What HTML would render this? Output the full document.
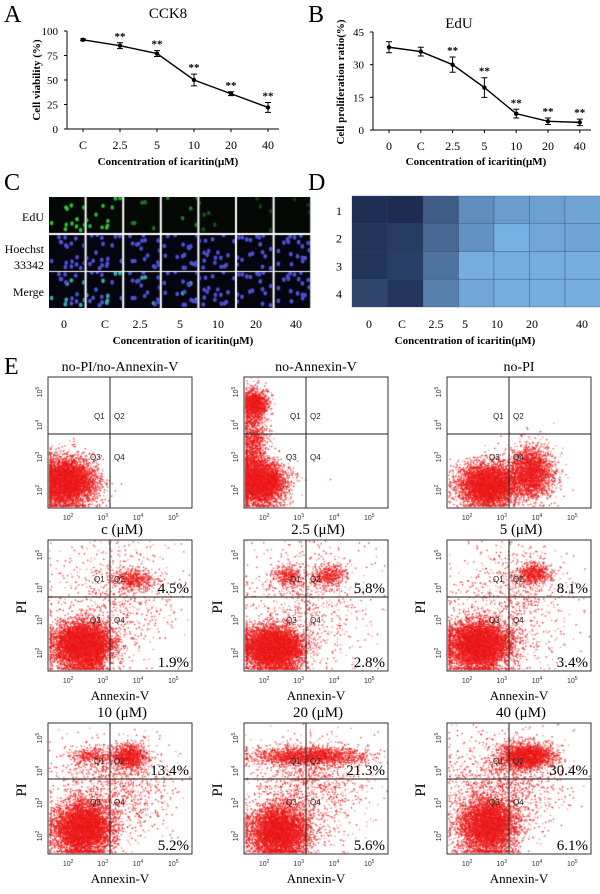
<!DOCTYPE html>
<html><head><meta charset="utf-8">
<style>
html,body{margin:0;padding:0;background:#fff;}
#wrap{position:relative;width:600px;height:894px;overflow:hidden;font-family:"Liberation Serif",serif;}
canvas{position:absolute;}
svg{position:absolute;left:0;top:0;}
</style></head>
<body>
<div id="wrap">
<svg id="fig" width="600" height="894" viewBox="0 0 600 894"></svg>
</div>
<script>
// ---- Panel A data ----
const catsA = ['C','2.5','5','10','20','40'];
const valsA = [91,85,77,50,36,22];
const errA = [1,3,3,6,2,5];
const ticksA = [0,25,50,75,100];
// ---- Panel B data ----
const catsB = ['0','C','2.5','5','10','20','40'];
const valsB = [38,36,30,19.5,7.5,4,3.5];
const errB = [2.5,2,3.5,4.5,2,1.5,1.5];
const ticksB = [0,15,30,45];
// ---- Panel D heatmap data (0 = dark, 1 = light) ----
const heatRows = ['1','2','3','4'];
const heatCols = ['0','C','2.5','5','10','20','40'];
const heatRow1 = [0.02,0.0,0.35,0.72,0.82,0.85,0.88];
const heatRow2 = [0.06,0.12,0.45,0.75,0.97,0.90,0.88];
const heatRow3 = [0.06,0.13,0.52,0.95,0.95,0.95,0.95];
const heatRow4 = [0.18,0.07,0.62,0.90,0.95,0.95,0.95];
// ---- Panel E data ----
const flowTitles = ['no-PI/no-Annexin-V','no-Annexin-V','no-PI','c (μM)','2.5 (μM)','5 (μM)','10 (μM)','20 (μM)','40 (μM)'];
const pctUpper = ['','','','4.5%','5.8%','8.1%','13.4%','21.3%','30.4%'];
const pctLower = ['','','','1.9%','2.8%','3.4%','5.2%','5.6%','6.1%'];

const NS='http://www.w3.org/2000/svg';
const svg=document.getElementById('fig');
const wrap=document.getElementById('wrap');
function mk(tag,attrs,parent){const e=document.createElementNS(NS,tag);for(const k in attrs)e.setAttribute(k,attrs[k]);(parent||svg).appendChild(e);return e;}
function txt(x,y,s,size,anchor,weight,extra){const e=mk('text',Object.assign({x:x,y:y,'font-size':size,'text-anchor':anchor||'middle','font-family':'Liberation Serif, serif','font-weight':weight||'normal',fill:'#000'},extra||{}));e.textContent=s;return e;}
function rng(seed){return function(){seed|=0;seed=seed+0x6D2B79F5|0;let t=Math.imul(seed^seed>>>15,1|seed);t=t+Math.imul(t^t>>>7,61|t)^t;return((t^t>>>14)>>>0)/4294967296;};}
const R=rng(12345);
function gauss(){return Math.sqrt(-2*Math.log(R()+1e-9))*Math.cos(2*Math.PI*R());}

[['A',4,22],['B',308,22],['C',4,190],['D',308,190],['E',4,374]].forEach(function(p){
  const t=txt(p[1],p[2],p[0],24,'start');
  
  
});

function lineChart(cfg){
  const g=mk('g',{});
  
  
  const y=v=>cfg.y0-(v-cfg.vmin)/(cfg.vmax-cfg.vmin)*(cfg.y0-cfg.y1);
  const x=i=>cfg.xs+i*cfg.dx;
  const ya=mk('line',{x1:cfg.ax,y1:cfg.y1,x2:cfg.ax,y2:cfg.y0,stroke:'#000','stroke-width':1},g);
  
  
  const xa=mk('line',{x1:cfg.ax,y1:cfg.y0,x2:cfg.xe,y2:cfg.y0,stroke:'#000','stroke-width':1},g);
  
  
  cfg.ticks.forEach(function(v){
    mk('line',{x1:cfg.ax-3,y1:y(v),x2:cfg.ax,y2:y(v),stroke:'#000'},g);
    const t=txt(cfg.ax-9,y(v)+4,String(v),11,'end','normal');g.appendChild(t);
    
    
  });
  cfg.cats.forEach(function(c,i){
    mk('line',{x1:x(i),y1:cfg.y0,x2:x(i),y2:cfg.y0+3,stroke:'#000'},g);
    const t=txt(x(i),cfg.y0+20,c,12,'middle');g.appendChild(t);
    
    
  });
  let d='';
  cfg.vals.forEach(function(v,i){d+=(i?'L':'M')+x(i)+','+y(v);});
  const p=mk('path',{d:d,fill:'none',stroke:'#000','stroke-width':1.4},g);
  
  
  cfg.vals.forEach(function(v,i){
    const e=cfg.err[i];
    const eb=mk('path',{d:'M'+x(i)+','+y(v+e)+'V'+y(v-e)+'M'+(x(i)-3)+','+y(v+e)+'h6M'+(x(i)-3)+','+y(v-e)+'h6',stroke:'#000',fill:'none','stroke-width':1},g);
    
    
    const c=mk('circle',{cx:x(i),cy:y(v),r:2.2,fill:'#000'},g);
    
    
    if(cfg.stars[i]){const s=txt(x(i),y(v+e)-3,'**',11,'middle','bold');g.appendChild(s);
      
      }
  });
  const tt=txt(cfg.tx,cfg.ty,cfg.title,15,'middle');g.appendChild(tt);
  
  
  const xt=txt(cfg.xtx,165,'Concentration of icaritin(μM)',11,'middle','bold');g.appendChild(xt);
  
  
  const yt=txt(0,0,cfg.ytitle,11,'middle','bold',{transform:'translate('+cfg.ytx+','+cfg.yty+') rotate(-90)'});g.appendChild(yt);
  
  
}
lineChart({name:'cck8-chart',cats:catsA,vals:valsA,err:errA,ticks:ticksA,vmin:0,vmax:100,y0:129,y1:31,ax:67,xe:279,xs:83,dx:37,
  stars:[0,1,1,1,1,1],title:'CCK8',tx:168,ty:18,xtx:168,ytitle:'Cell viability  (%)',ytx:40,yty:80});
lineChart({name:'edu-chart',cats:catsB,vals:valsB,err:errB,ticks:ticksB,vmin:0,vmax:45,y0:130,y1:32,ax:373,xe:591,xs:389,dx:31.8,
  stars:[0,0,1,1,1,1,1],title:'EdU',tx:459,ty:28,xtx:476,ytitle:'Cell proliferation ratio(%)',ytx:344,yty:82});

const micro=document.createElement('canvas');micro.width=263;micro.height=111;
micro.style.left='49px';micro.style.top='197px';


wrap.insertBefore(micro,svg);
(function(){
  const c=micro.getContext('2d');c.fillStyle='#fff';c.fillRect(0,0,263,111);
  const cw=37.6, rows=[[0,36],[38,36],[75,36]];
  const greenN=[12,11,5,5,5,4,3], greenB=[0.95,0.9,0.55,0.6,0.4,0.3,0.25];
  for(let col=0;col<7;col++){
    const x0=col*cw, w=cw-2;
    const nuclei=[];for(let k=0;k<18;k++)nuclei.push([R()*w,R()*34]);
    rows.forEach(function(r,ri){
      c.fillStyle=ri==0?'#040804':'#05050f';c.fillRect(x0,r[0],w,r[1]);
      c.save();c.beginPath();c.rect(x0,r[0],w,r[1]);c.clip();
      if(ri==0){for(let k=0;k<greenN[col];k++){const n=nuclei[k];c.fillStyle='rgba(50,200,60,'+greenB[col]+')';c.beginPath();c.ellipse(x0+n[0],r[0]+n[1],1.8,2.2,0,0,7);c.fill();}}
      else{nuclei.forEach(function(n,k){c.fillStyle=(ri==2&&k<greenN[col]*0.6&&col<4)?'#3aa8b0':'#4a50d0';c.beginPath();c.ellipse(x0+n[0],r[0]+n[1],1.9,2.3,0,0,7);c.fill();});}
      c.restore();
    });
  }
})();
[['EdU',44,221],['Hoechst',44,253],['33342',44,269],['Merge',44,296]].forEach(function(l){
  const t=txt(l[1],l[2],l[0],12,'end');
  
  
});
const cX=[64,105,140,180,218,256,296];
catsB.forEach(function(c,i){const t=txt(cX[i],328,c,12,'middle');
  
  });
(function(){const t=txt(183,344,'Concentration of icaritin(μM)',11,'middle','bold');
  
  })();

const heatData=[heatRow1,heatRow2,heatRow3,heatRow4];
function heatColor(v){const a=[29,44,80],b=[122,180,230];return 'rgb('+a.map((q,i)=>Math.round(q+(b[i]-q)*v)).join(',')+')';}
const hx0=352,hy0=196,hcw=35.5,hch=27.75;
heatData.forEach(function(row,ri){
  row.forEach(function(v,ci){
    const r=mk('rect',{x:hx0+ci*hcw,y:hy0+ri*hch,width:hcw,height:hch,fill:heatColor(v),stroke:'#2a4470','stroke-width':0.6,'stroke-opacity':0.5});
    
    
  });
  const t=txt(339,hy0+ri*hch+hch/2+5,heatRows[ri],12,'middle');
  
  
});
const dX=[369,402,436,465,497,532,582];
heatCols.forEach(function(c,i){const t=txt(dX[i],328,c,12,'middle');
  
  });
(function(){const t=txt(465,344,'Concentration of icaritin(μM)',11,'middle','bold');
  
  })();

const colX=[48,244,447], rowY=[377,540,723], vLine=[110,306,509], hOff=[57,57,56];
const BW=144, BH=131;
const clusters=[
 [[0.12,0.8,0.1,0.09,3500]],
 [[0.1,0.8,0.09,0.08,3000],[0.07,0.2,0.045,0.05,700],[0.06,0.5,0.05,0.2,900]],
 [[0.28,0.82,0.1,0.08,3000],[0.58,0.72,0.08,0.1,1500]],
 [[0.24,0.8,0.1,0.09,4000],[0.6,0.3,0.07,0.04,300],[0.45,0.45,0.22,0.25,500]],
 [[0.2,0.82,0.1,0.08,4000],[0.3,0.27,0.05,0.04,200],[0.58,0.27,0.06,0.04,250],[0.45,0.45,0.22,0.25,500]],
 [[0.22,0.8,0.11,0.09,3800],[0.6,0.26,0.06,0.04,350],[0.45,0.45,0.2,0.25,550]],
 [[0.24,0.8,0.1,0.1,3500],[0.56,0.25,0.06,0.05,600],[0.3,0.25,0.08,0.04,200],[0.45,0.5,0.2,0.2,700]],
 [[0.24,0.82,0.1,0.1,3200],[0.45,0.25,0.2,0.035,1100],[0.45,0.5,0.2,0.2,700]],
 [[0.28,0.78,0.1,0.11,3000],[0.55,0.25,0.09,0.05,1300],[0.4,0.45,0.2,0.2,800]]
];
const xtickF=[0.14,0.38,0.625,0.87], ytickY=[15,48,80,113], ytickE=['5','4','3','2'], xtickE=['2','3','4','5'];
for(let p=0;p<9;p++){
  const row=Math.floor(p/3), col=p%3, bx=colX[col], by=rowY[row];
  const cv=document.createElement('canvas');cv.width=BW;cv.height=BH;
  cv.style.left=bx+'px';cv.style.top=by+'px';
  
  
  wrap.insertBefore(cv,svg);
  const c=cv.getContext('2d');
  clusters[p].forEach(function(cl){
    const n=Math.round(cl[4]*1.6);
    for(let k=0;k<n;k++){
      let x=(cl[0]+gauss()*cl[2])*BW, y=(cl[1]+gauss()*cl[3])*BH;
      if(x<1)x=1+R()*2; if(y>BH-2)y=BH-2-R()*2;
      if(x>BW||y<0)continue;
      c.fillStyle=R()<0.6?'rgba(232,20,20,0.9)':'rgba(245,50,50,0.6)';
      c.fillRect(x,y,1.3,1.3);
    }
  });
  const g=mk('g',{});
  
  
  const box=mk('rect',{x:bx,y:by,width:BW,height:BH,fill:'none',stroke:'#333','stroke-width':1},g);
  
  
  const hy=by+hOff[row];
  const gl=mk('path',{d:'M'+vLine[col]+','+by+'V'+(by+BH)+'M'+bx+','+hy+'H'+(bx+BW),stroke:'#222','stroke-width':1},g);
  
  
  [['Q1',vLine[col]-16,hy-15],['Q2',vLine[col]+4,hy-15],['Q3',vLine[col]-20,hy+26],['Q4',vLine[col]+4,hy+26]].forEach(function(q){
    const t=txt(q[1],q[2],q[0],8,'start','normal',{fill:'#222','font-family':'Liberation Sans, sans-serif'});g.appendChild(t);
    
    
  });
  ytickY.forEach(function(yy,i){
    const t=mk('text',{transform:'translate('+(bx-6)+','+(by+yy)+') rotate(-90)','font-size':7,'text-anchor':'middle','font-family':'Liberation Sans, sans-serif',fill:'#333'},g);
    t.textContent='10';const s=mk('tspan',{dy:-3,'font-size':5},t);s.textContent=ytickE[i];
    
    
  });
  xtickF.forEach(function(f,i){
    const t=mk('text',{x:bx+f*BW,y:by+BH+12,'font-size':7,'text-anchor':'middle','font-family':'Liberation Sans, sans-serif',fill:'#333'},g);
    t.textContent='10';const s=mk('tspan',{dy:-3,'font-size':5},t);s.textContent=xtickE[i];
    
    
  });
  const title=txt(bx+BW/2+(row==0?0:2),by-6,flowTitles[p],row==0?14:15,'middle');g.appendChild(title);
  
  
  if(row>0){
    const a=txt(bx+BW/2,by+BH+29,'Annexin-V',13,'middle');g.appendChild(a);
    
    
    const pi=txt(0,0,'PI',15,'middle','normal',{transform:'translate('+(bx-22)+','+(by+67)+') rotate(-90)'});g.appendChild(pi);
    
    
    const u=txt(bx+BW-3,hy-4,pctUpper[p],15,'end');g.appendChild(u);
    
    
    const l=txt(bx+BW-3,by+BH-4,pctLower[p],15,'end');g.appendChild(l);
    
    
  }
}
</script>
</body></html>
